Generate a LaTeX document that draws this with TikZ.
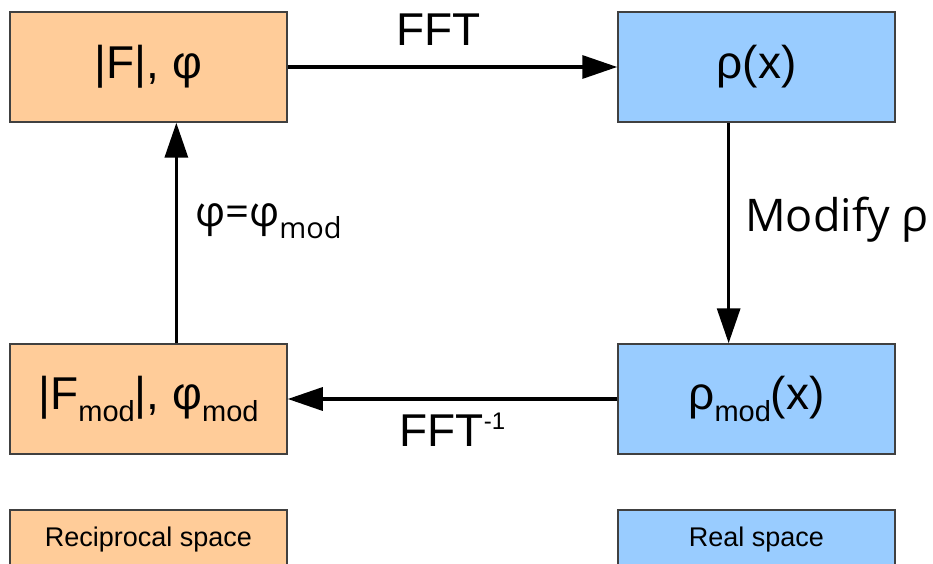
\documentclass[tikz,border=0pt]{standalone}
\usepackage{fontspec}
\setmainfont{Liberation Sans}
\newfontfamily\opensans{Open Sans}
\usetikzlibrary{calc,arrows.meta}
\definecolor{recipfill}{HTML}{FFCC99}
\definecolor{realfill}{HTML}{99CCFF}
\newcommand{\lowtext}[1]{\raisebox{-12pt}{\fontsize{29}{31}\selectfont #1}}
\newcommand{\hightext}[1]{\raisebox{17pt}{\fontsize{24}{26}\selectfont #1}}

\begin{document}
\begin{tikzpicture}[x=1pt,y=-1pt,
    recip/.style={draw=black!75,line width=1.5pt,fill=recipfill,minimum width=277pt,
      minimum height=110pt,inner sep=0pt,font=\fontsize{46}{50}\selectfont},
    realbox/.style={recip,fill=realfill},
    recipkey/.style={recip,minimum height=60pt,font=\fontsize{27}{29}\selectfont},
    realkey/.style={recipkey,fill=realfill},
    flow/.style={line width=3.4pt,-{Triangle[length=35pt,width=23pt]}},
    flowlabel/.style={inner sep=0pt,font=\fontsize{46}{50}\selectfont}]
      \clip (0,0) rectangle (933,564);
      % the four boxes
      \node[recip] (amp) at (148.5,67) {|F|, φ};
      \node[realbox] (rho) at (756.5,67) {ρ(x)};
      \node[realbox] (rhomod) at (756.5,399) {ρ\lowtext{mod}(x)};
      \node[recip] (ampmod) at (148.5,399) {|F\lowtext{mod}|, φ\lowtext{mod}};
      % key
      \node[recipkey] (recipkey) at (148.5,540) {Reciprocal space};
      \node[realkey] (realkey) at (756.5,540) {Real space};
      % the cycle
      \draw[flow] (amp) -- node[flowlabel,above=20pt,xshift=-14pt] {FFT} (rho);
      \draw[flow] ($(rho.south west)!0.4!(rho.south east)$) --
        node[flowlabel,right=15pt,yshift=13pt,font=\opensans\fontsize{45}{49}\selectfont] {Modify ρ}
        ($(rhomod.north west)!0.4!(rhomod.north east)$);
      \draw[flow] (rhomod) -- node[flowlabel,below=12pt] {FFT\hightext{-1}} (ampmod);
      \draw[flow] ($(ampmod.north west)!0.6!(ampmod.north east)$) --
        node[flowlabel,right=17pt,yshift=12pt,font=\opensans\fontsize{42}{46}\selectfont] {φ=φ\lowtext{mod}}
        ($(amp.south west)!0.6!(amp.south east)$);
\end{tikzpicture}
\end{document}
